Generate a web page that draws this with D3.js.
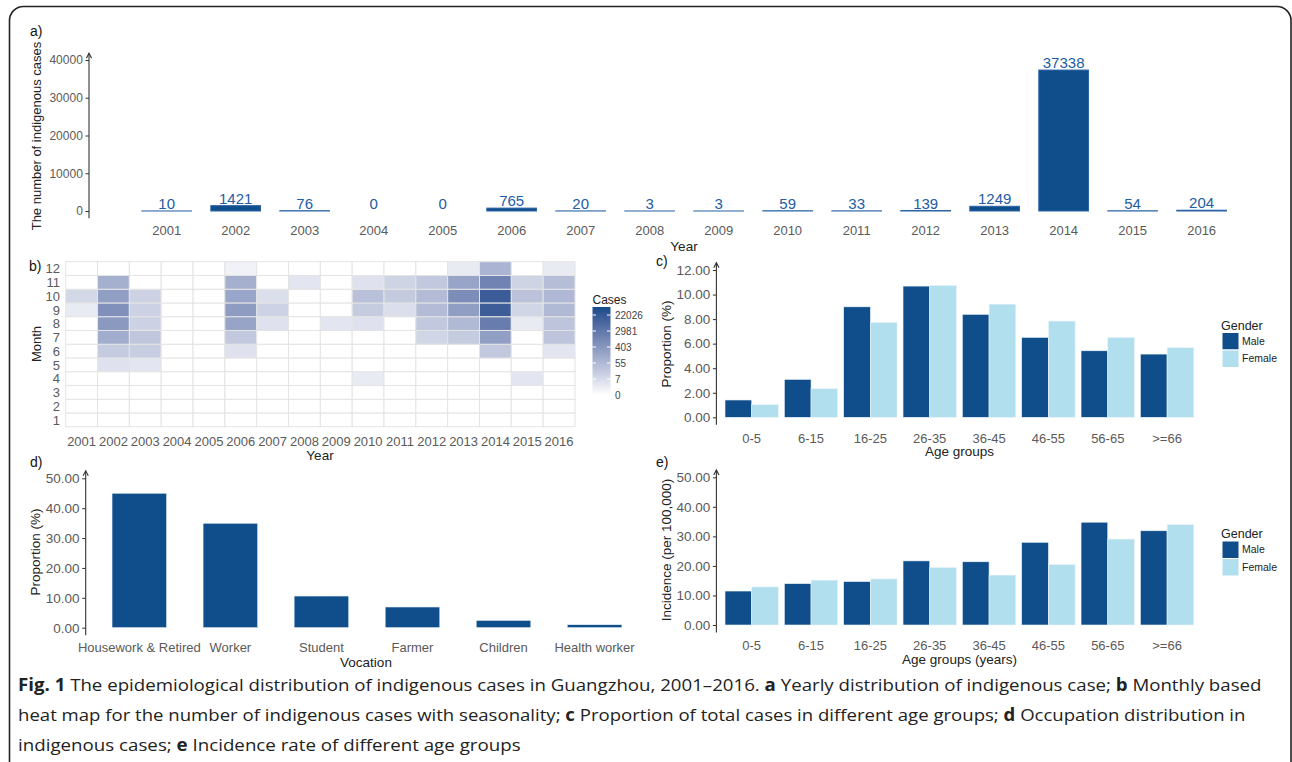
<!DOCTYPE html>
<html>
<head>
<meta charset="utf-8">
<script src="https://cdn.jsdelivr.net/npm/d3@7"></script>
<style>
  body { margin: 0; background: #fff; }
  svg { display: block; font-family: "Liberation Sans", Arial, sans-serif; }
</style>
</head>
<body>
<svg id="fig" width="1292" height="762"></svg>
<script>
// ---------- data ----------
const years = [2001, 2002, 2003, 2004, 2005, 2006, 2007, 2008, 2009, 2010, 2011, 2012, 2013, 2014, 2015, 2016];
const yearlyCases = [10, 1421, 76, 0, 0, 765, 20, 3, 3, 59, 33, 139, 1249, 37338, 54, 204];

const months = [1, 2, 3, 4, 5, 6, 7, 8, 9, 10, 11, 12];
// one row per year (2001..2016), Jan..Dec
const monthlyCases = [
  [0, 0, 0, 0, 0, 0, 0, 0, 2, 8, 0, 0],
  [0, 0, 0, 0, 4, 17, 110, 350, 600, 250, 90, 0],
  [0, 0, 0, 0, 3, 15, 22, 12, 12, 12, 0, 0],
  [0, 0, 0, 0, 0, 0, 0, 0, 0, 0, 0, 0],
  [0, 0, 0, 0, 0, 0, 0, 0, 0, 0, 0, 0],
  [0, 0, 0, 0, 0, 4, 20, 190, 300, 160, 90, 1],
  [0, 0, 0, 0, 0, 0, 0, 4, 11, 5, 0, 0],
  [0, 0, 0, 0, 0, 0, 0, 0, 0, 0, 3, 0],
  [0, 0, 0, 0, 0, 0, 0, 3, 0, 0, 0, 0],
  [0, 0, 0, 2, 0, 0, 0, 4, 17, 32, 4, 0],
  [0, 0, 0, 0, 0, 0, 0, 0, 5, 18, 10, 0],
  [0, 0, 0, 0, 0, 0, 9, 20, 45, 45, 20, 0],
  [0, 0, 0, 0, 0, 0, 17, 50, 260, 750, 170, 2],
  [0, 0, 0, 0, 0, 20, 250, 2100, 16000, 17500, 1400, 68],
  [0, 0, 0, 3, 0, 0, 0, 2, 9, 30, 10, 0],
  [0, 0, 0, 0, 0, 3, 27, 27, 50, 55, 40, 2]
];
const casesLegendTicks = [0, 2, 4, 6, 8, 10];           // log(cases) positions
const casesLegendLabels = ["0", "7", "55", "403", "2981", "22026"];

const ageGroups = ["0-5", "6-15", "16-25", "26-35", "36-45", "46-55", "56-65", ">=66"];
const genders = ["Male", "Female"];
const propMale = [1.41, 3.09, 9.0, 10.69, 8.39, 6.51, 5.42, 5.15];
const propFemale = [1.03, 2.33, 7.73, 10.75, 9.22, 7.84, 6.51, 5.67];
const incMale = [11.5, 14.0, 14.7, 21.7, 21.4, 28.0, 34.8, 31.9];
const incFemale = [12.9, 15.2, 15.6, 19.5, 16.9, 20.5, 29.1, 34.0];

const vocations = ["Housework & Retired", "Worker", "Student", "Farmer", "Children", "Health worker"];
const vocationProp = [45.0, 34.96, 10.6, 6.93, 2.46, 1.0];

// ---------- setup ----------
const svg = d3.select("#fig");
const tickGrey = "#5a5a5a";
const axisCol = "#333333";
const maleCol = "#104E8B";
const femaleCol = "#B2DFEE";

// rounded frame round the whole figure
svg.append("rect")
  .attr("x", 9.5).attr("y", 6.5)
  .attr("width", 1281.5).attr("height", 775)
  .attr("rx", 14)
  .attr("fill", "none")
  .attr("stroke", "#222")
  .attr("stroke-width", 1.6);

function panelTag(txt, x, y) {
  svg.append("text").attr("x", x).attr("y", y)
    .style("font-size", "14px").attr("fill", "#111").text(txt);
}

// left axis with an arrow head at the top (ggplot axis.line + arrow)
function arrowAxis(y, x, lo, hi, ticks, fmt, fs) {
  const g = svg.append("g").attr("transform", `translate(${x},0)`);
  g.call(d3.axisLeft(y).tickValues(ticks).tickFormat(fmt).tickSize(3.5).tickPadding(2.7));
  g.attr("font-family", null).attr("font-size", null);
  g.select(".domain").remove();
  g.selectAll(".tick line").attr("stroke", axisCol);
  g.selectAll(".tick text").attr("fill", tickGrey).style("font-size", fs + "px");
  g.append("line").attr("y1", y(lo)).attr("y2", y(hi)).attr("stroke", axisCol).attr("stroke-width", 1.1);
  g.append("path")
    .attr("d", `M-2.6,${y(hi) + 5}L0,${y(hi)}L2.6,${y(hi) + 5}`)
    .attr("fill", "none").attr("stroke", axisCol).attr("stroke-width", 1.1);
  return g;
}

function yTitle(txt, x, cy, fs) {
  svg.append("text")
    .attr("transform", `translate(${x},${cy}) rotate(-90)`)
    .attr("text-anchor", "middle")
    .style("font-size", fs + "px").attr("fill", "#222")
    .text(txt);
}

function xTitle(txt, cx, y, fs) {
  svg.append("text").attr("x", cx).attr("y", y)
    .attr("text-anchor", "middle")
    .style("font-size", fs + "px").attr("fill", "#222")
    .text(txt);
}

// ---------- a) yearly cases ----------
panelTag("a)", 30, 36);
const xA = d3.scaleBand().domain(years).range([89.8, 1278.5]).paddingInner(0.28).paddingOuter(0.754);
const yA = d3.scaleLinear().domain([0, 40000]).range([211, 60]);

svg.append("g").selectAll("rect")
  .data(years)
  .join("rect")
  .attr("x", (d) => xA(d))
  .attr("y", (d, i) => yA(yearlyCases[i]))
  .attr("width", xA.bandwidth())
  .attr("height", (d, i) => yA(0) - yA(yearlyCases[i]))
  .attr("fill", maleCol)
  .attr("stroke", "#2c64a6")
  .attr("stroke-width", 1);

svg.append("g").selectAll("text")
  .data(years)
  .join("text")
  .attr("x", (d) => xA(d) + xA.bandwidth() / 2)
  .attr("y", (d, i) => yA(yearlyCases[i]) - 1.8)
  .attr("text-anchor", "middle")
  .style("font-size", "15px")
  .attr("fill", "#235ca6")
  .text((d, i) => yearlyCases[i]);

svg.append("g").selectAll("text")
  .data(years)
  .join("text")
  .attr("x", (d) => xA(d) + xA.bandwidth() / 2)
  .attr("y", 235)
  .attr("text-anchor", "middle")
  .style("font-size", "13px")
  .attr("fill", tickGrey)
  .text((d) => d);

arrowAxis(yA, 89, -1900, 41800, [0, 10000, 20000, 30000, 40000], d3.format("d"), 12);
yTitle("The number of indigenous cases", 41, 136, 13);
xTitle("Year", 684, 251, 13.5);

// ---------- b) month x year heat map ----------
panelTag("b)", 29, 271);
const xB = d3.scaleBand().domain(years).range([65.7, 575]);
const yB = d3.scaleBand().domain(months).range([426.7, 261.7]);
const logMax = 11;
const heat = d3.scaleSequential((t) => d3.interpolateLab("#ffffff", "#174a8b")(t)).domain([0, logMax]);

const cells = [];
years.forEach((yr, i) => months.forEach((m, j) => cells.push({ yr, m, v: monthlyCases[i][j] })));

svg.append("g").selectAll("rect")
  .data(cells)
  .join("rect")
  .attr("x", (d) => xB(d.yr))
  .attr("y", (d) => yB(d.m))
  .attr("width", xB.bandwidth())
  .attr("height", yB.bandwidth())
  .attr("fill", (d) => heat(Math.log1p(d.v)))
  .attr("stroke", "#e4e4e4")
  .attr("stroke-width", 1);

svg.append("g").selectAll("text")
  .data(years)
  .join("text")
  .attr("x", (d) => xB(d) + xB.bandwidth() / 2)
  .attr("y", 446)
  .attr("text-anchor", "middle")
  .style("font-size", "13px")
  .attr("fill", tickGrey)
  .text((d) => d);

svg.append("g").selectAll("text")
  .data(months)
  .join("text")
  .attr("x", 60)
  .attr("y", (d) => yB(d) + yB.bandwidth() / 2)
  .attr("dy", "0.36em")
  .attr("text-anchor", "end")
  .style("font-size", "13px")
  .attr("fill", tickGrey)
  .text((d) => d);

yTitle("Month", 41, 344, 13);
xTitle("Year", 320, 460, 13.5);

// colour bar legend
const legY = d3.scaleLinear().domain([0, logMax]).range([395, 307]);
const grad = svg.append("defs").append("linearGradient")
  .attr("id", "casesGrad").attr("x1", 0).attr("y1", 1).attr("x2", 0).attr("y2", 0);
grad.selectAll("stop")
  .data(d3.range(0, 1.0001, 0.1))
  .join("stop")
  .attr("offset", (d) => d)
  .attr("stop-color", (d) => heat(d * logMax));
svg.append("rect")
  .attr("x", 592.5).attr("y", legY(logMax))
  .attr("width", 18).attr("height", legY(0) - legY(logMax))
  .attr("fill", "url(#casesGrad)");
const legTicks = svg.append("g");
legTicks.selectAll("line.l")
  .data(casesLegendTicks).join("line").attr("class", "l")
  .attr("x1", 592.5).attr("x2", 596).attr("y1", (d) => legY(d)).attr("y2", (d) => legY(d))
  .attr("stroke", "#fff");
legTicks.selectAll("line.r")
  .data(casesLegendTicks).join("line").attr("class", "r")
  .attr("x1", 607).attr("x2", 610.5).attr("y1", (d) => legY(d)).attr("y2", (d) => legY(d))
  .attr("stroke", "#fff");
legTicks.selectAll("text")
  .data(casesLegendTicks).join("text")
  .attr("x", 615).attr("y", (d) => legY(d)).attr("dy", "0.35em")
  .style("font-size", "10px").attr("fill", "#444")
  .text((d, i) => casesLegendLabels[i]);
svg.append("text").attr("x", 592.5).attr("y", 303.5)
  .style("font-size", "12px").attr("fill", "#222").text("Cases");

// ---------- c) and e) dodged bars by age group ----------
function agePanel(cfg) {
  const x = d3.scaleBand().domain(ageGroups).range([716.1, 1202.7]).paddingInner(0.1).paddingOuter(0.15);
  const xs = d3.scaleBand().domain(genders).range([0, x.bandwidth()]);
  const y = d3.scaleLinear().domain([0, cfg.max]).range(cfg.yRange);
  const rows = ageGroups.map((a, i) => ({ a, vals: [cfg.male[i], cfg.female[i]] }));

  const grp = svg.append("g").selectAll("g")
    .data(rows)
    .join("g")
    .attr("transform", (d) => `translate(${x(d.a)},0)`);
  grp.selectAll("rect")
    .data((d) => d.vals.map((v, k) => ({ g: genders[k], v })))
    .join("rect")
    .attr("x", (d) => xs(d.g))
    .attr("y", (d) => y(d.v))
    .attr("width", xs.bandwidth())
    .attr("height", (d) => y(0) - y(d.v))
    .attr("fill", (d) => (d.g === "Male" ? maleCol : femaleCol))
    .attr("stroke", "#eaf4fa")
    .attr("stroke-width", 0.6);

  svg.append("g").selectAll("text")
    .data(ageGroups)
    .join("text")
    .attr("x", (d) => x(d) + x.bandwidth() / 2)
    .attr("y", cfg.xLabY)
    .attr("text-anchor", "middle")
    .style("font-size", "13px")
    .attr("fill", tickGrey)
    .text((d) => d);

  const pad = cfg.max * 0.05;
  arrowAxis(y, 716.4, -pad, cfg.max + pad, d3.range(0, cfg.max + 0.001, cfg.step), d3.format(".2f"), 13.5);
  yTitle(cfg.yTitle, 671, cfg.yTitleY, 13.5);
  xTitle(cfg.xTitle, 959.5, cfg.xTitleY, 13.5);
  panelTag(cfg.tag, 656, cfg.tagY);

  // legend
  const lg = svg.append("g").attr("transform", `translate(1222,${cfg.legY})`);
  lg.append("text").attr("x", -1).attr("y", -3).style("font-size", "12.5px").attr("fill", "#222").text("Gender");
  lg.selectAll("rect")
    .data(genders).join("rect")
    .attr("x", 0).attr("y", (d, i) => i * 17.5)
    .attr("width", 17).attr("height", 17.5)
    .attr("fill", (d) => (d === "Male" ? maleCol : femaleCol))
    .attr("stroke", "#fff").attr("stroke-width", 1);
  lg.selectAll("text.k")
    .data(genders).join("text").attr("class", "k")
    .attr("x", 20).attr("y", (d, i) => i * 17.5 + 8.75).attr("dy", "0.35em")
    .style("font-size", "10.5px").attr("fill", "#222")
    .text((d) => d);
}

agePanel({
  male: propMale, female: propFemale, max: 12, step: 2, yRange: [417.3, 270],
  yTitle: "Proportion (%)", yTitleY: 344, xTitle: "Age groups", xTitleY: 456,
  xLabY: 443, tag: "c)", tagY: 266, legY: 332.5
});

agePanel({
  male: incMale, female: incFemale, max: 50, step: 10, yRange: [625, 477.3],
  yTitle: "Incidence (per 100,000)", yTitleY: 550, xTitle: "Age groups (years)", xTitleY: 664,
  xLabY: 650, tag: "e)", tagY: 467, legY: 541
});

// ---------- d) vocation ----------
panelTag("d)", 30, 467);
const xD = d3.scaleBand().domain(vocations).range([84.7, 649.2]).paddingInner(0.4).paddingOuter(0.3);
const yD = d3.scaleLinear().domain([0, 50]).range([627.7, 478.3]);

svg.append("g").selectAll("rect")
  .data(vocations)
  .join("rect")
  .attr("x", (d) => xD(d))
  .attr("y", (d, i) => yD(vocationProp[i]))
  .attr("width", xD.bandwidth())
  .attr("height", (d, i) => yD(0) - yD(vocationProp[i]))
  .attr("fill", maleCol)
  .attr("stroke", "#eaf4fa")
  .attr("stroke-width", 0.6);

svg.append("g").selectAll("text")
  .data(vocations)
  .join("text")
  .attr("x", (d) => xD(d) + xD.bandwidth() / 2)
  .attr("y", 651.5)
  .attr("text-anchor", "middle")
  .style("font-size", "13px")
  .attr("fill", tickGrey)
  .text((d) => d);

arrowAxis(yD, 85.7, -2.5, 52.5, [0, 10, 20, 30, 40, 50], d3.format(".2f"), 13.5);
yTitle("Proportion (%)", 40, 552, 13.5);
xTitle("Vocation", 366, 667, 13.5);

// ---------- caption ----------
const captionLines = [
  { w: 1244, y: 691, parts: [["Fig. 1", true], [" The epidemiological distribution of indigenous cases in Guangzhou, 2001\u20132016. ", false], ["a", true], [" Yearly distribution of indigenous case; ", false], ["b", true], [" Monthly based", false]] },
  { w: 1228, y: 721, parts: [["heat map for the number of indigenous cases with seasonality; ", false], ["c", true], [" Proportion of total cases in different age groups; ", false], ["d", true], [" Occupation distribution in", false]] },
  { w: 503, y: 751, parts: [["indigenous cases; ", false], ["e", true], [" Incidence rate of different age groups", false]] }
];

captionLines.forEach((ln) => {
  const t = svg.append("text")
    .style("font-family", "'Open Sans', 'Liberation Sans', sans-serif")
    .style("font-size", "17px")
    .attr("fill", "#222");
  ln.parts.forEach(([s, bold]) => {
    t.append("tspan").attr("font-weight", bold ? "bold" : "normal").text(s);
  });
  const natural = t.node().getComputedTextLength();
  t.attr("transform", `translate(18,${ln.y}) scale(${ln.w / natural},1)`);
});
</script>
</body>
</html>
